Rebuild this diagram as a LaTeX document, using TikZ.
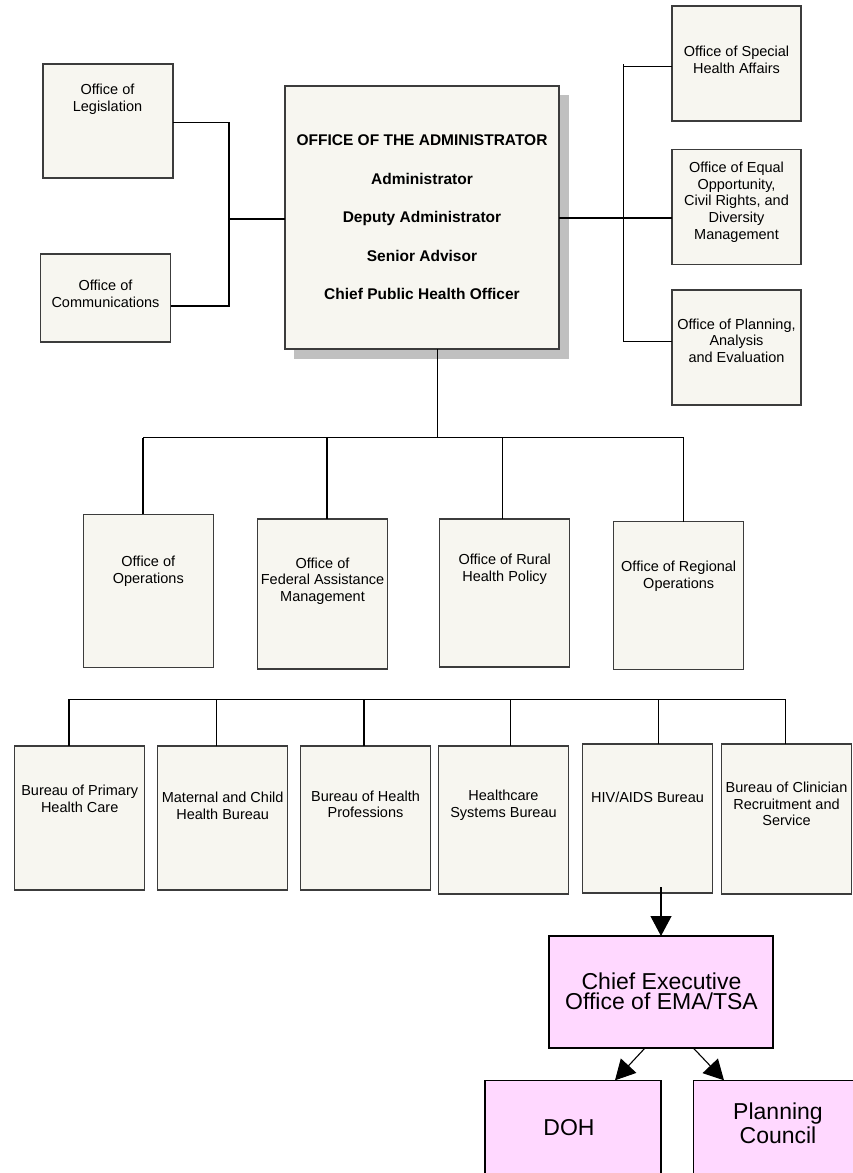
\documentclass[tikz,border=0pt]{standalone}
\usepackage{fontspec}
\setmainfont{Liberation Sans}
\usetikzlibrary{arrows.meta}
\definecolor{boxfill}{HTML}{F7F6F0}
\definecolor{boxline}{HTML}{3C3C3C}
\definecolor{pinkfill}{HTML}{FFD8FF}
\definecolor{shadowgray}{HTML}{C0C0C0}
\tikzset{
  obox/.style={draw=boxline, fill=boxfill, line width=1.2pt, inner sep=0pt, outer sep=0pt, anchor=north west},
  pbox/.style={obox, draw=black, fill=pinkfill},
  txt/.style={align=center, inner sep=0pt, font=\fontsize{14.5pt}{16.7pt}\selectfont},
  bigtxt/.style={align=center, inner sep=0pt, font=\fontsize{23pt}{20.7pt}\selectfont},
  conn/.style={draw=black, line width=1.1pt},
  arr/.style={conn, -{Triangle[length=20pt,width=21pt]}}
}
\begin{document}
\begin{tikzpicture}[x=1pt, y=-1pt]
\useasboundingbox (0,0) rectangle (853,1173);
\clip (0,0) rectangle (853,1173);
\fill[white] (0,0) rectangle (853,1173);
% top-left offices
\node[obox, minimum width=130pt, minimum height=114pt] (leg) at (43,64) {};
\node[txt] (legT) at (107.5,99) {Office of\\Legislation};
\node[obox, minimum width=130pt, minimum height=88pt] (comm) at (40.5,254) {};
\node[txt] (commT) at (105.5,294) {Office of\\Communications};
% main
\fill[shadowgray] (294,95) rectangle (569,359);
\node[obox, minimum width=274pt, minimum height=263pt] (main) at (285,86) {};
\node[align=center, inner sep=0pt, font=\fontsize{15.5pt}{38.5pt}\selectfont\bfseries] (mainT) at (422,217.5)
  {OFFICE OF THE ADMINISTRATOR\\Administrator\\Deputy Administrator\\Senior Advisor\\Chief Public Health  Officer};
% right offices
\node[obox, minimum width=129pt, minimum height=115pt] (special) at (672,6) {};
\node[txt] (specialT) at (736.5,60) {Office of Special\\Health Affairs};
\node[obox, minimum width=129pt, minimum height=115pt] (equal) at (672,149.5) {};
\node[txt] (equalT) at (736.5,202) {Office of Equal\\Opportunity,\\Civil Rights, and\\Diversity\\Management};
\node[obox, minimum width=129pt, minimum height=115pt] (planning) at (672,290) {};
\node[txt] (planningT) at (736.5,340.7) {Office of Planning,\\Analysis\\and Evaluation};
% middle row
\node[obox, minimum width=130pt, minimum height=153pt] (ops) at (83.3,514.3) {};
\node[txt] (opsT) at (148.3,571.3) {Office of\\Operations};
\node[obox, minimum width=130pt, minimum height=150pt] (fed) at (257.7,519) {};
\node[txt] (fedT) at (322.5,581) {Office of\\Federal Assistance\\Management};
\node[obox, minimum width=130pt, minimum height=148pt] (rural) at (439.7,519) {};
\node[txt] (ruralT) at (504.7,569) {Office of Rural\\Health Policy};
\node[obox, minimum width=130pt, minimum height=148pt] (regional) at (613.7,521.7) {};
\node[txt] (regionalT) at (678.7,576) {Office of Regional\\Operations};
% bottom row
\node[obox, minimum width=130pt, minimum height=144pt] (primary) at (14.7,746) {};
\node[txt] (primaryT) at (79.7,798.7) {Bureau of Primary\\Health Care};
\node[obox, minimum width=130pt, minimum height=144pt] (maternal) at (157.7,746) {};
\node[txt] (maternalT) at (222.7,805.8) {Maternal and Child\\Health Bureau};
\node[obox, minimum width=130pt, minimum height=144pt] (prof) at (300.7,746) {};
\node[txt] (profT) at (365.5,804.3) {Bureau of Health\\Professions};
\node[obox, minimum width=130pt, minimum height=148pt] (hcs) at (438.7,746) {};
\node[txt] (hcsT) at (503.5,805) {Healthcare\\Systems Bureau};
\node[obox, minimum width=130pt, minimum height=149pt] (hiv) at (582.7,744) {};
\node[txt] (hivT) at (647.5,797.3) {HIV/AIDS Bureau};
\node[obox, minimum width=130pt, minimum height=150pt] (clin) at (721.7,744) {};
\node[txt] (clinT) at (786.5,804) {Bureau of Clinician\\Recruitment and\\Service};
% pink boxes
\node[pbox, minimum width=224pt, minimum height=112pt] (chief) at (549,936) {};
\node[bigtxt] (chiefT) at (661.5,991.3) {Chief Executive\\Office of EMA/TSA};
\node[pbox, minimum width=176pt, minimum height=130pt] (doh) at (485,1080.3) {};
\node[bigtxt] (dohT) at (569,1127.7) {DOH};
\node[pbox, minimum width=171pt, minimum height=130pt] (pc) at (693.3,1080.3) {};
\node[align=center, inner sep=0pt, font=\fontsize{23pt}{24pt}\selectfont] (pcT) at (778,1123.5) {Planning\\Council};
% left connectors
\coordinate (lA) at (229,122.7);
\coordinate (lB) at (229,306);
\coordinate (jL) at (229,219);
\draw[conn] (leg.east |- lA) -- (lA) -- (lB) -- (comm.east |- lB);
\draw[conn] (jL) -- (main.west |- jL);
% right connectors
\coordinate (rT) at (623.3,64.3);
\coordinate (rS) at (623.3,66.3);
\coordinate (rE) at (623.3,218);
\coordinate (rP) at (623.3,341.3);
\draw[conn] (rT) -- (rP);
\draw[conn] (rS) -- (special.west |- rS);
\draw[conn] (main.east |- rE) -- (equal.west |- rE);
\draw[conn] (rP) -- (planning.west |- rP);
% middle connectors
\coordinate (mB) at (437.3,437.7);
\coordinate (mL) at (143,437.7);
\coordinate (mF) at (327,437.7);
\coordinate (mU) at (502.3,437.7);
\coordinate (mR) at (683.7,437.7);
\draw[conn] (main.south -| mB) -- (mB);
\draw[conn] (mL) -- (mR);
\draw[conn] (mL) -- (ops.north -| mL);
\draw[conn] (mF) -- (fed.north -| mF);
\draw[conn] (mU) -- (rural.north -| mU);
\draw[conn] (mR) -- (regional.north -| mR);
% bottom connectors
\coordinate (b1) at (69,699.3);
\coordinate (b2) at (216.7,699.3);
\coordinate (b3) at (364,699.3);
\coordinate (b4) at (510.7,699.3);
\coordinate (b5) at (658.3,699.3);
\coordinate (b6) at (785.7,699.3);
\draw[conn] (b1) -- (b6);
\draw[conn] (b1) -- (primary.north -| b1);
\draw[conn] (b2) -- (maternal.north -| b2);
\draw[conn] (b3) -- (prof.north -| b3);
\draw[conn] (b4) -- (hcs.north -| b4);
\draw[conn] (b5) -- (hiv.north -| b5);
\draw[conn] (b6) -- (clin.north -| b6);
% arrows
\coordinate (aS) at (661,887);
\draw[arr] (aS) -- (chief.north -| aS);
\coordinate (c1) at (645,1048);
\coordinate (d1) at (615,1080.3);
\coordinate (c2) at (693.3,1048);
\coordinate (p1) at (724,1080.3);
\draw[arr] (c1) -- (d1);
\draw[arr] (c2) -- (p1);
\end{tikzpicture}
\end{document}
